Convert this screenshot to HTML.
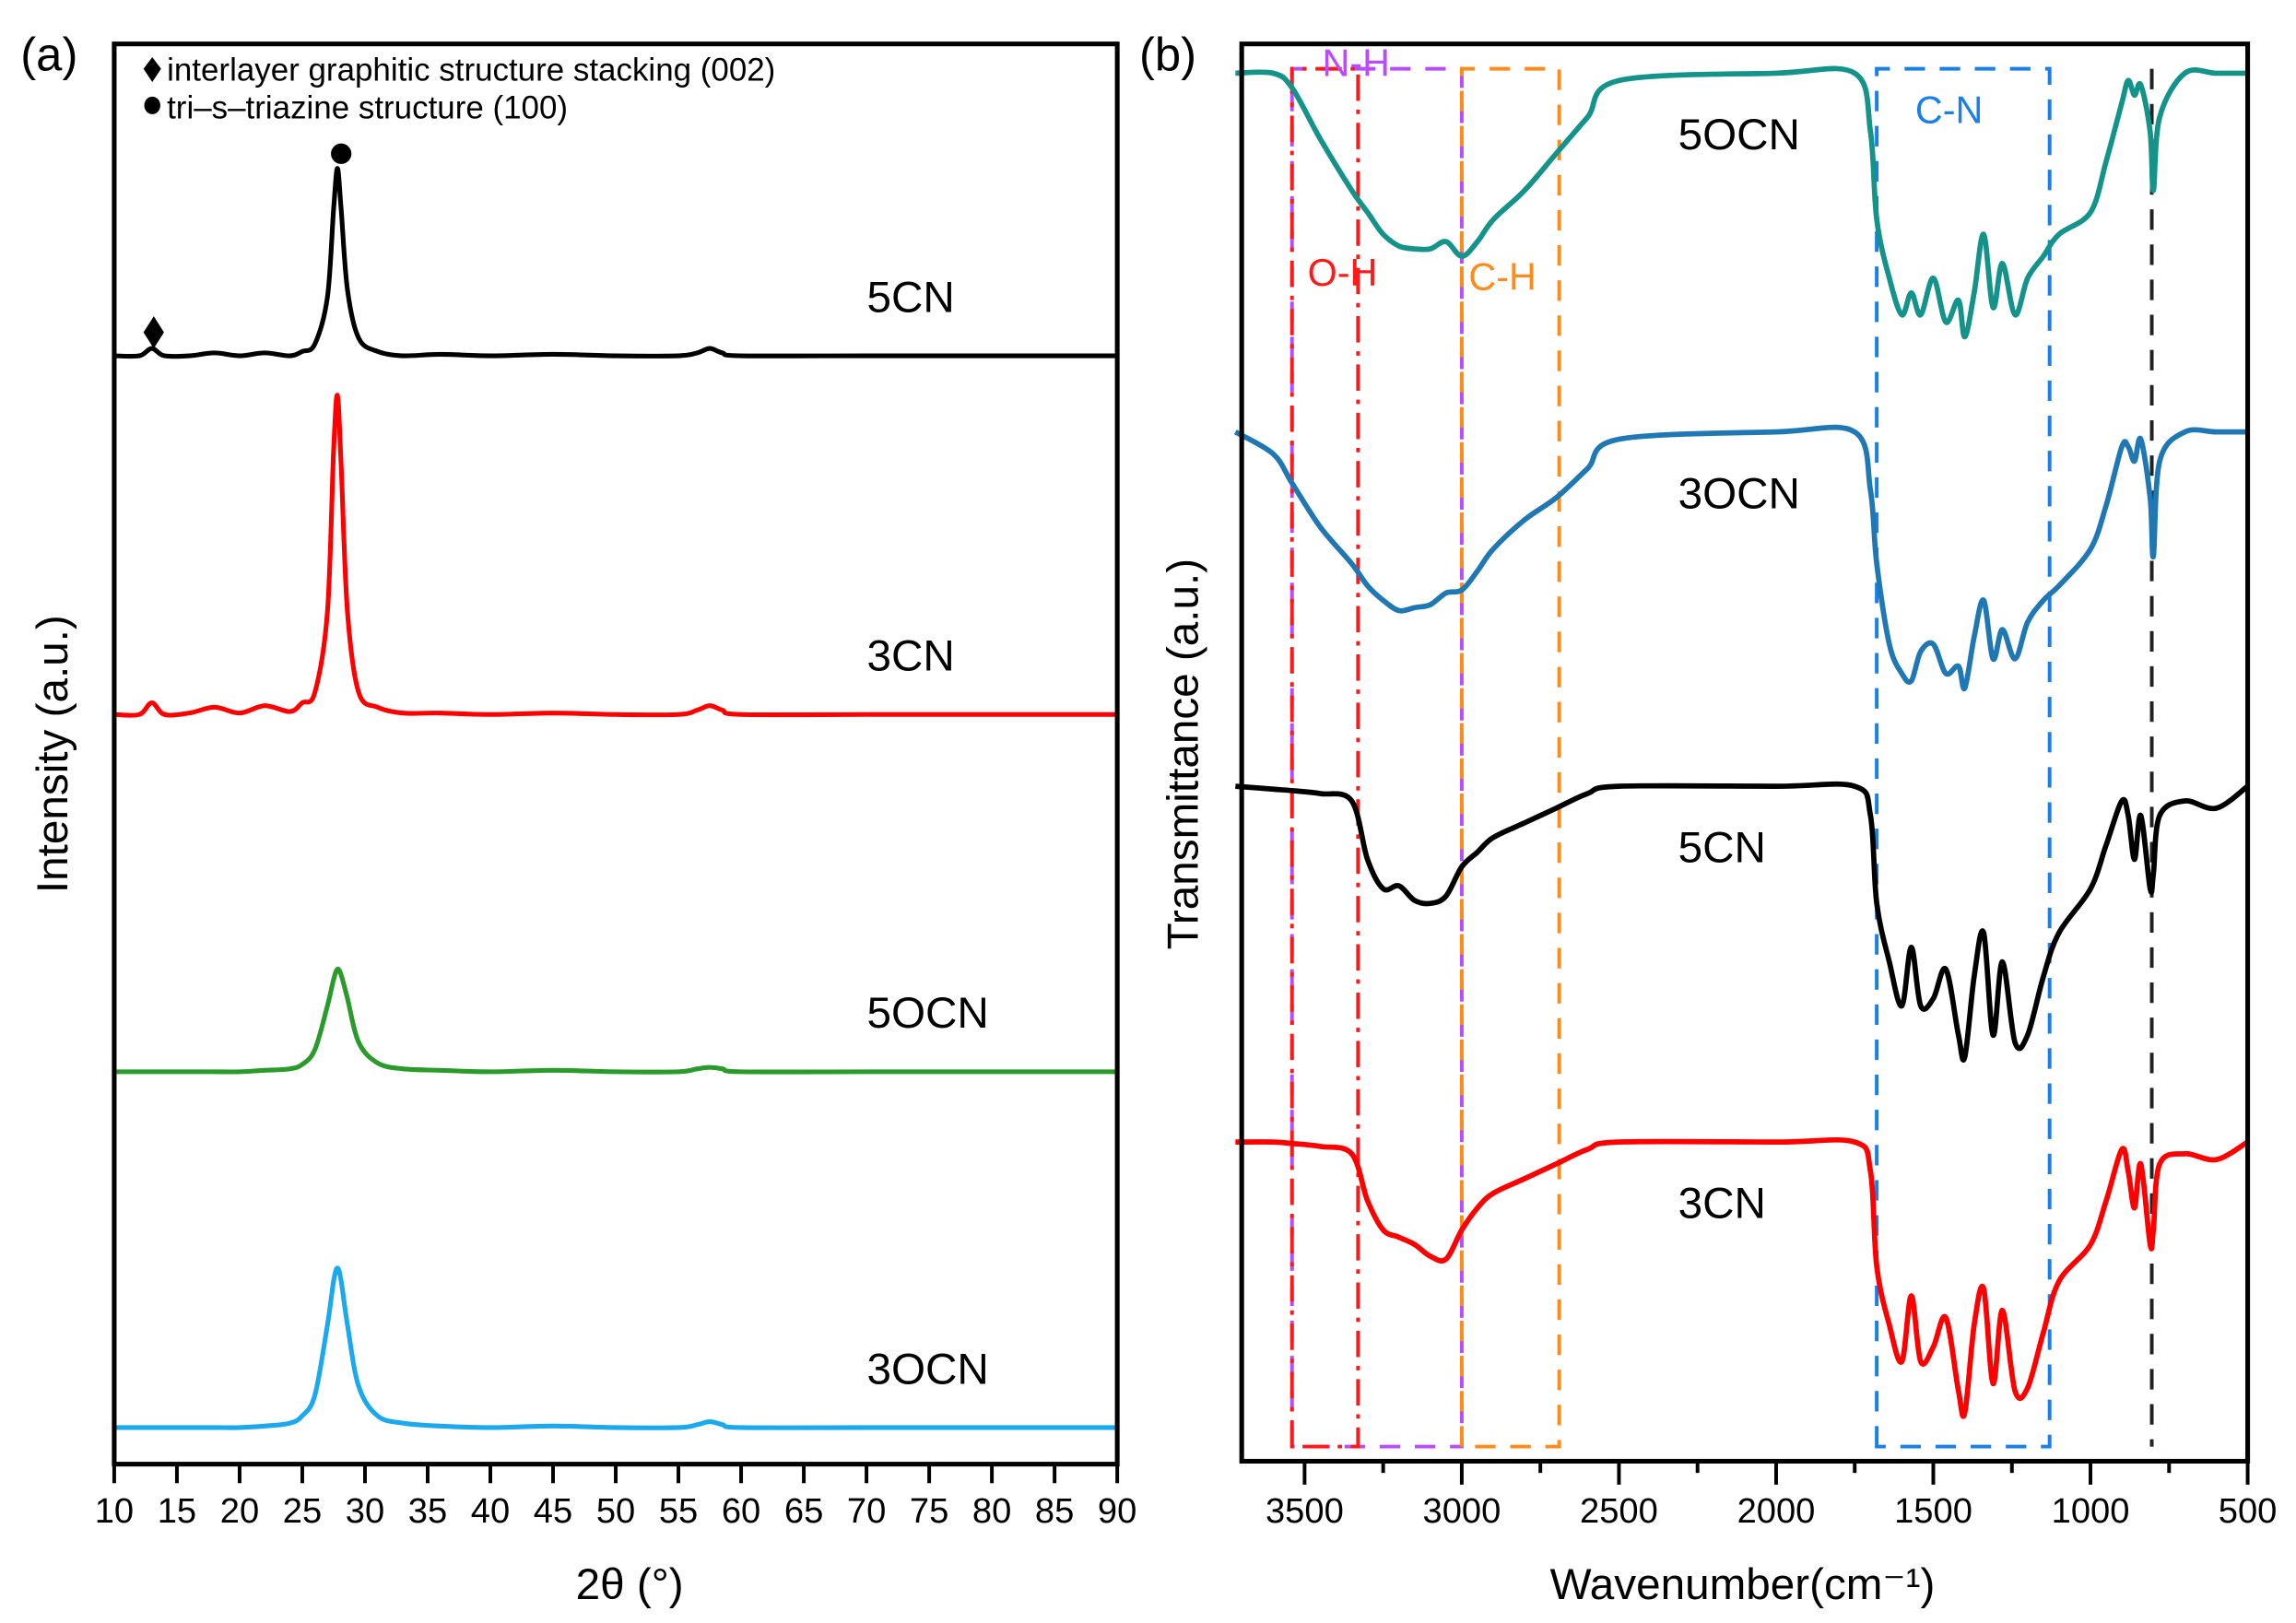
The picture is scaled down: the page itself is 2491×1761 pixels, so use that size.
<!DOCTYPE html>
<html><head><meta charset="utf-8"><style>
html,body{margin:0;padding:0;background:#fff}
svg{display:block}
text{font-family:"Liberation Sans",Arial,sans-serif}
</style></head><body>
<svg id="fig" width="2491" height="1761" viewBox="0 0 1568 1108.5" xmlns="http://www.w3.org/2000/svg">
<g id="pa"></g>
<g id="pb"></g>
</svg>
<script>
// ---------- XRD data ----------
const xrdAngles=[10,12,13,14,16,18,20,22,24,25,26,27,27.5,27.8,28.1,28.6,29.5,31,33,36,40,45,50,55,56.5,57.5,58.5,60,70,80,90];
const xrd5CN=[0,0,5,0,0,2,0,2,0,3,8,40,100,128,100,45,12,3,0,1,0,1,0,0,2,5,2,0,0,0,0];
const xrd3CN=[0,0,8,0,1,5,1,6,2,8,15,70,180,218,170,70,15,5,1,1,0,1,0,0,3,6,3,0,0,0,0];
const xrd5OCN=[0,0,0,0,0,0,0,1,2,5,15,45,63,70,66,50,20,6,2,1,0,1,0,0,2,3,2,0,0,0,0];
const xrd3OCN=[0,0,0,0,0,0,0,1,3,8,22,70,100,109,100,70,28,8,3,1,0,1,0,0,2,4,2,0,0,0,0];
const xrdTicks=[10,15,20,25,30,35,40,45,50,55,60,65,70,75,80,85,90];
const xrdNames=["5CN","3CN","5OCN","3OCN"];
const xrdBase=[243,488,732,975];
// ---------- FTIR data ----------
const wn=[3720,3600,3540,3450,3350,3300,3250,3200,3150,3100,3050,3000,2950,2900,2800,2700,2600,2500,2000,1750,1700,1680,1640,1600,1570,1540,1500,1460,1420,1400,1370,1340,1310,1280,1240,1200,1150,1100,1000,950,900,880,860,840,810,800,780,700,600,500];
const ir5OCN=[0,0,10,45,80,95,110,118,120,120,115,125,115,100,80,55,30,5,0,0,40,100,140,165,150,165,140,170,155,180,150,110,160,130,165,140,125,110,95,60,20,5,15,8,40,80,30,0,0,0];
const ir3OCN=[0,15,35,65,90,105,115,122,120,118,110,108,95,80,60,45,25,5,0,0,40,90,145,165,170,150,145,165,160,175,140,115,155,135,155,130,115,105,80,50,10,10,20,5,45,85,20,0,0,0];
const ir5CN=[0,2,3,5,10,50,70,68,78,80,75,55,45,35,25,15,5,0,0,0,20,80,120,150,110,150,145,125,170,185,130,100,170,120,175,170,130,100,70,40,10,20,50,20,70,60,20,10,15,0];
const ir3CN=[0,0,1,3,8,40,60,65,70,78,80,60,45,35,25,15,5,0,0,0,20,85,125,150,105,150,140,120,170,185,125,100,165,115,170,168,130,95,70,40,5,20,45,15,70,60,15,8,12,0];
const irTicks=[3500,3000,2500,2000,1500,1000,500];
const irNames=["5OCN","3OCN","5CN","3CN"];
const irBase=[50,295,537,780];

const NS="http://www.w3.org/2000/svg";
function mk(parent,tag,attrs,txt){const e=document.createElementNS(NS,tag);for(const k in attrs)e.setAttribute(k,attrs[k]);if(txt!==undefined)e.textContent=txt;parent.appendChild(e);return e;}
function smooth(pts){
  let d='M'+pts[0][0].toFixed(1)+','+pts[0][1].toFixed(1);
  for(let i=0;i<pts.length-1;i++){
    const p0=pts[Math.max(0,i-1)],p1=pts[i],p2=pts[i+1],p3=pts[Math.min(pts.length-1,i+2)];
    const c1x=p1[0]+(p2[0]-p0[0])/6,c1y=p1[1]+(p2[1]-p0[1])/6;
    const c2x=p2[0]-(p3[0]-p1[0])/6,c2y=p2[1]-(p3[1]-p1[1])/6;
    d+=` C${c1x.toFixed(1)},${c1y.toFixed(1)} ${c2x.toFixed(1)},${c2y.toFixed(1)} ${p2[0].toFixed(1)},${p2[1].toFixed(1)}`;
  }
  return d;
}

// ---------- Panel A ----------
const pa=document.getElementById('pa');
const ax0=78,ax1=763,ay0=30,ay1=1000;
const xa=v=>ax0+(v-10)/80*(ax1-ax0);
const xrdSeries=[xrd5CN,xrd3CN,xrd5OCN,xrd3OCN];
const xrdColors=["#000000","#ff0000","#2a9a2a","#1aa8ee"];
xrdSeries.forEach((s,i)=>{
  const d=smooth(xrdAngles.map((a,j)=>[xa(a),xrdBase[i]-s[j]]));
  const p=mk(pa,'path',{d:d,fill:'none',stroke:xrdColors[i],'stroke-width':3.2,'stroke-linejoin':'round'});
  
  
  const t=mk(pa,'text',{x:592,y:xrdBase[i]-30,'font-size':30},xrdNames[i]);
  
  
});
const fa=mk(pa,'rect',{x:ax0,y:ay0,width:ax1-ax0,height:ay1-ay0,fill:'none',stroke:'#000','stroke-width':3.2});

xrdTicks.forEach(v=>{
  const l=mk(pa,'line',{x1:xa(v),x2:xa(v),y1:ay1,y2:ay1+13,stroke:'#000','stroke-width':2.5});
  
  const t=mk(pa,'text',{x:xa(v),y:ay1+40,'font-size':24,'text-anchor':'middle'},String(v));
  
});
mk(pa,'path',{d:'M105,216 L112,227 L105,238 L98,227 Z',fill:'#000',});
mk(pa,'ellipse',{cx:233,cy:105,rx:7,ry:7,fill:'#000',});
mk(pa,'path',{d:'M104,39 L110,47 L104,56 L98,47 Z',fill:'#000',});
mk(pa,'text',{x:114,y:55,'font-size':22,'font-weight':500,},'interlayer graphitic structure stacking (002)');
mk(pa,'ellipse',{cx:104,cy:72,rx:5.5,ry:6,fill:'#000',});
mk(pa,'text',{x:114,y:81,'font-size':22,'font-weight':500,},'tri–s–triazine structure (100)');
mk(pa,'text',{x:430,y:1092,'font-size':30,'text-anchor':'middle',},'2θ (°)');
mk(pa,'text',{x:0,y:0,'font-size':30,'text-anchor':'middle',transform:'translate(46,515) rotate(-90)',},'Intensity (a.u.)');
mk(pa,'text',{x:14,y:48,'font-size':32,},'(a)');

// ---------- Panel B ----------
const pb=document.getElementById('pb');
const bx0=848,bx1=1535,by0=30,by1=998;
const xb=v=>bx1-(v-500)/3200*(bx1-bx0);
function box(x1,x2,col,dash,name){
  const r=mk(pb,'path',{d:`M${xb(x1)},988 L${xb(x1)},47 L${xb(x2)},47 L${xb(x2)},988 Z`,fill:'none',stroke:col,'stroke-width':2.5,'stroke-dasharray':dash});
  
}
box(3540,3000,'#b84dff','14,10','nh-region-box');
box(3000,2690,'#ff8c1a','14,10','ch-region-box');
box(3540,3330,'#ff1a1a','18,6,3,6','oh-region-box');
box(1680,1130,'#1a7fe6','14,10','cn-region-box');
mk(pb,'line',{x1:xb(805),x2:xb(805),y1:47,y2:988,stroke:'#222','stroke-width':2.5,'stroke-dasharray':'14,10',});
const irSeries=[ir5OCN,ir3OCN,ir5CN,ir3CN];
const irColors=["#13938a","#1f78b4","#000000","#ff0000"];
irSeries.forEach((s,i)=>{
  const d=smooth(wn.map((w,j)=>[xb(w),irBase[i]+s[j]]));
  const p=mk(pb,'path',{d:d,fill:'none',stroke:irColors[i],'stroke-width':3.6,'stroke-linejoin':'round'});
  
  
  const t=mk(pb,'text',{x:1146,y:irBase[i]+52,'font-size':30},irNames[i]);
  
  
});
mk(pb,'text',{x:903,y:52,'font-size':26,fill:'#b84dff',},'N-H');
mk(pb,'text',{x:893,y:195,'font-size':26,fill:'#ff1a1a',},'O-H');
mk(pb,'text',{x:1003,y:198,'font-size':26,fill:'#ff8c1a',},'C-H');
mk(pb,'text',{x:1308,y:84,'font-size':26,fill:'#1a7fe6',},'C-N');
const fb=mk(pb,'rect',{x:bx0,y:by0,width:bx1-bx0,height:by1-by0,fill:'none',stroke:'#000','stroke-width':3.2});

for(let v=750;v<=3500;v+=500){
  const l=mk(pb,'line',{x1:xb(v),x2:xb(v),y1:by1,y2:by1+8,stroke:'#000','stroke-width':2.5});
  
}
irTicks.forEach(v=>{
  const l=mk(pb,'line',{x1:xb(v),x2:xb(v),y1:by1,y2:by1+16,stroke:'#000','stroke-width':2.5});
  
  const t=mk(pb,'text',{x:xb(v),y:by1+42,'font-size':24,'text-anchor':'middle'},String(v));
  
});
mk(pb,'text',{x:1190,y:1092,'font-size':30,'text-anchor':'middle',},'Wavenumber(cm⁻¹)');
mk(pb,'text',{x:0,y:0,'font-size':30,'text-anchor':'middle',transform:'translate(818,515) rotate(-90)',},'Transmittance (a.u.)');
mk(pb,'text',{x:778,y:48,'font-size':32,},'(b)');
</script>
</body></html>
